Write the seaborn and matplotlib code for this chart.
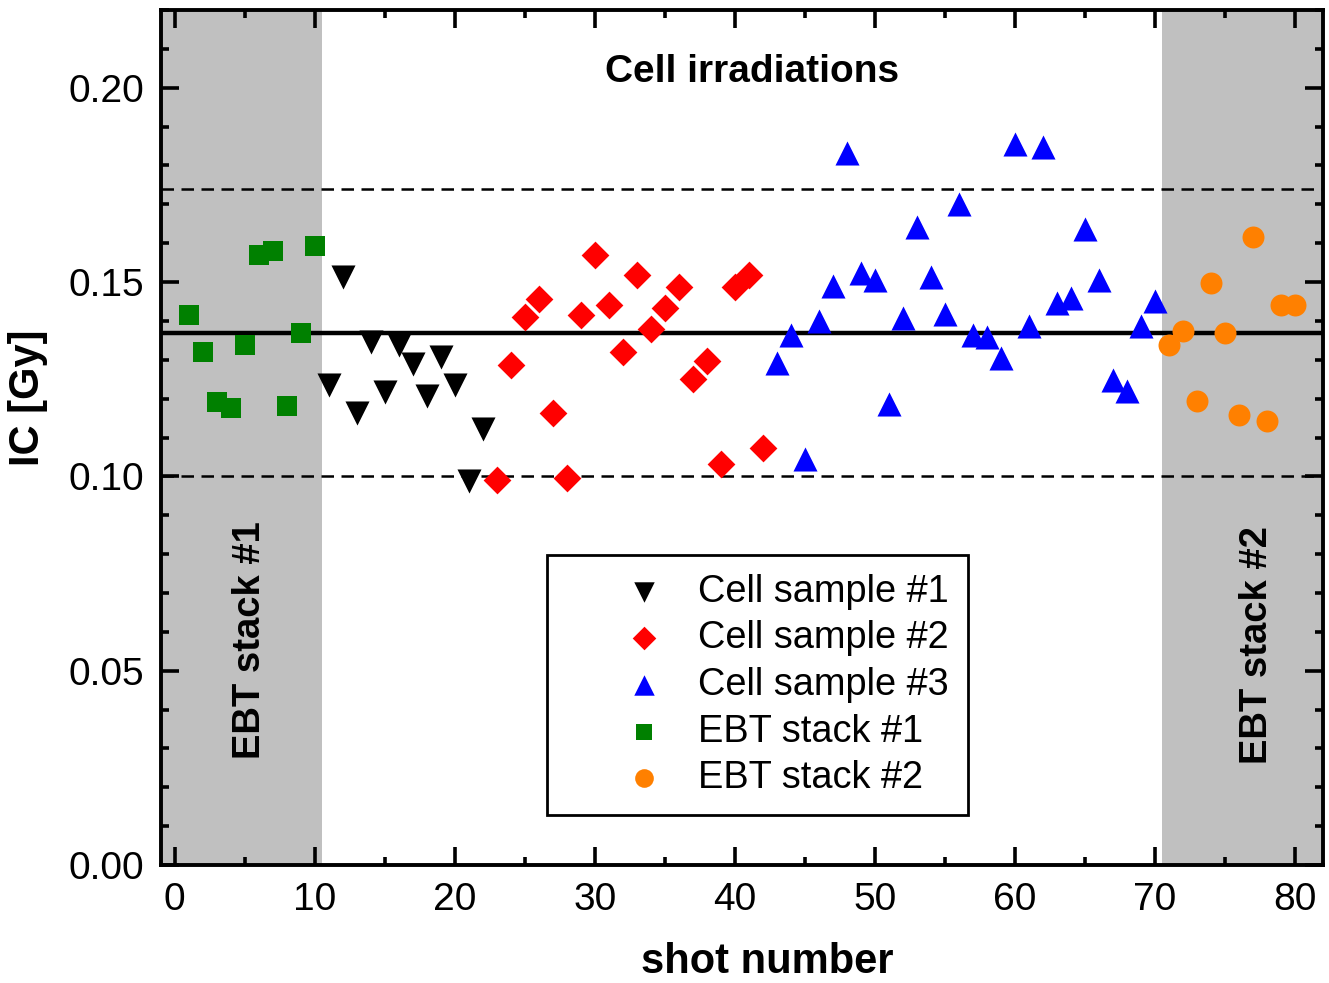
import numpy as np
import pandas as pd
import matplotlib
matplotlib.use("Agg")
import matplotlib.pyplot as plt
import seaborn as sns
from matplotlib.ticker import MultipleLocator, FormatStrFormatter

# Data (shot number, IC dose in Gy)
ebt1_shot = [1, 2, 3, 4, 5, 6, 7, 8, 9, 10]
ebt1_ic = [0.1415, 0.1321, 0.1192, 0.1175, 0.1339, 0.1569, 0.1581, 0.1180, 0.1368, 0.1592]

cell1_shot = [11, 12, 13, 14, 15, 16, 17, 18, 19, 20, 21, 22]
cell1_ic = [0.1234, 0.1512, 0.1164, 0.1345, 0.1217, 0.1337, 0.1289, 0.1206, 0.1306, 0.1234, 0.0987, 0.1123]

cell2_shot = [23, 24, 25, 26, 27, 28, 29, 30, 31, 32, 33, 34, 35, 36, 37, 38, 39, 40, 41, 42]
cell2_ic = [0.0990, 0.1287, 0.1410, 0.1457, 0.1162, 0.0996, 0.1416, 0.1570, 0.1440, 0.1321,
            0.1517, 0.1380, 0.1434, 0.1487, 0.1250, 0.1298, 0.1033, 0.1487, 0.1517, 0.1073]

cell3_shot = [43, 44, 45, 46, 47, 48, 49, 50, 51, 52, 53, 54, 55, 56,
              57, 58, 59, 60, 61, 62, 63, 64, 65, 66, 67, 68, 69, 70]
cell3_ic = [0.1293, 0.1364, 0.1044, 0.1400, 0.1489, 0.1832, 0.1524, 0.1506, 0.1186, 0.1407,
            0.1642, 0.1513, 0.1417, 0.1701, 0.1364, 0.1358, 0.1304, 0.1854, 0.1387, 0.1848,
            0.1447, 0.1458, 0.1637, 0.1506, 0.1247, 0.1221, 0.1387, 0.1452]

ebt2_shot = [71, 72, 73, 74, 75, 76, 77, 78, 79, 80]
ebt2_ic = [0.1337, 0.1374, 0.1195, 0.1497, 0.1368, 0.1159, 0.1615, 0.1142, 0.1442, 0.1442]

mean_ic = 0.137
upper_ic = 0.174
lower_ic = 0.100

ebt1_range = (-1, 10.5)
ebt2_range = (70.5, 82)

sns.set_style("ticks")
plt.rcParams['font.family'] = ['Liberation Sans', 'DejaVu Sans']
plt.rcParams.update({'text.color': 'black', 'axes.labelcolor': 'black',
                     'xtick.color': 'black', 'ytick.color': 'black',
                     'axes.edgecolor': 'black'})

fig = plt.figure(figsize=(13.29, 9.83), dpi=100)
ax = fig.add_axes([0.121, 0.12, 0.8745, 0.8698])

# shaded EBT regions
ax.axvspan(*ebt1_range, color='#c0c0c0', lw=0, zorder=0)
ax.axvspan(*ebt2_range, color='#c0c0c0', lw=0, zorder=0)

# reference lines
ax.axhline(mean_ic, color='black', lw=3.2, zorder=1)
ax.axhline(upper_ic, color='black', lw=1.8, dashes=(5, 3), zorder=1)
ax.axhline(lower_ic, color='black', lw=1.8, dashes=(5, 3), zorder=1)

sns.scatterplot(x=cell1_shot, y=cell1_ic, marker='v', color='black', s=300, linewidth=0,
                label='Cell sample #1', ax=ax, zorder=3)
sns.scatterplot(x=cell2_shot, y=cell2_ic, marker='D', color='#ff0000', s=200, linewidth=0,
                label='Cell sample #2', ax=ax, zorder=3)
sns.scatterplot(x=cell3_shot, y=cell3_ic, marker='^', color='#0000ff', s=300, linewidth=0,
                label='Cell sample #3', ax=ax, zorder=3)
sns.scatterplot(x=ebt1_shot, y=ebt1_ic, marker='s', color='#008000', s=207, linewidth=0,
                label='EBT stack #1', ax=ax, zorder=3)
sns.scatterplot(x=ebt2_shot, y=ebt2_ic, marker='o', color='#ff8000', s=250, linewidth=0,
                label='EBT stack #2', ax=ax, zorder=3)

ax.set_xlim(-1, 82)
ax.set_ylim(0, 0.22)
ax.xaxis.set_major_locator(MultipleLocator(10))
ax.xaxis.set_minor_locator(MultipleLocator(5))
ax.yaxis.set_major_locator(MultipleLocator(0.05))
ax.yaxis.set_minor_locator(MultipleLocator(0.01))
ax.yaxis.set_major_formatter(FormatStrFormatter('%.2f'))

ax.tick_params(which='both', direction='in', top=True, right=True, width=2.6, labelsize=28)
ax.tick_params(which='major', length=13, pad=12)
ax.tick_params(which='minor', length=6)
for sp in ax.spines.values():
    sp.set_linewidth(2.8)
    sp.set_visible(True)

ax.set_xlabel('shot number', fontsize=30, fontweight='bold')
ax.set_ylabel('IC [Gy]', fontsize=30, fontweight='bold')
ax.xaxis.set_label_coords(0.522, -0.090)
ax.yaxis.set_label_coords(-0.097, 0.547)

ax.text(0.509, 0.927, 'Cell irradiations', transform=ax.transAxes, ha='center', va='center',
        fontsize=28, fontweight='bold')
ax.text(0.0766, 0.263, 'EBT stack #1', transform=ax.transAxes, ha='center', va='center',
        rotation=90, fontsize=27.5, fontweight='bold')
ax.text(0.943, 0.257, 'EBT stack #2', transform=ax.transAxes, ha='center', va='center',
        rotation=90, fontsize=27.5, fontweight='bold')

leg = ax.legend(loc='lower left', bbox_to_anchor=(0.332, 0.058), fontsize=27.4,
                frameon=True, fancybox=False, borderpad=0.5, handlelength=4.14,
                handletextpad=-0.66, labelspacing=0.28, borderaxespad=0, markerscale=0.85)
leg.get_frame().set_edgecolor('black')
leg.get_frame().set_linewidth(2)
leg.get_frame().set_alpha(1)

plt.savefig('out.png', dpi=100)
